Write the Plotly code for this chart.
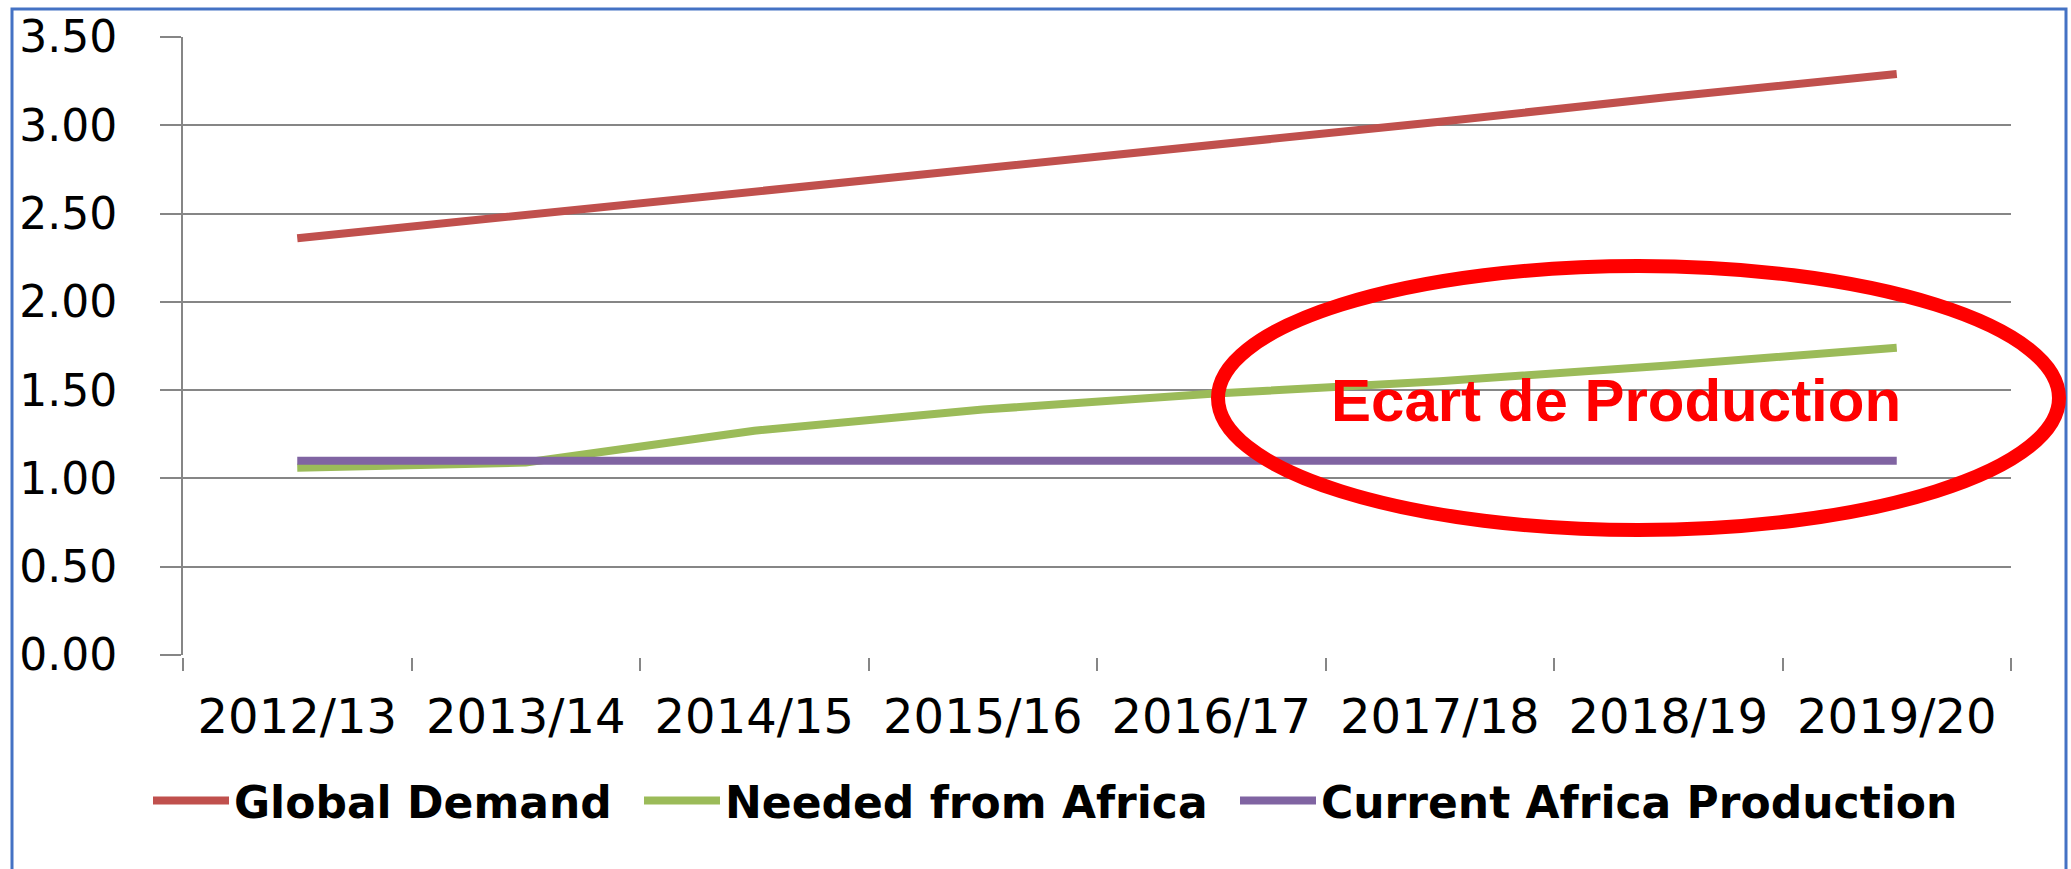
import plotly.graph_objects as go

# ---- data ----
seasons = ["2012/13", "2013/14", "2014/15", "2015/16", "2016/17", "2017/18", "2018/19", "2019/20"]
global_demand = [2.36, 2.49, 2.62, 2.76, 2.89, 3.02, 3.16, 3.29]
needed_from_africa = [1.06, 1.09, 1.27, 1.39, 1.48, 1.55, 1.64, 1.74]
current_africa_production = [1.10, 1.10, 1.10, 1.10, 1.10, 1.10, 1.10, 1.10]
y_ticks = [0.0, 0.5, 1.0, 1.5, 2.0, 2.5, 3.0, 3.5]
y_tick_text = ["0.00", "0.50", "1.00", "1.50", "2.00", "2.50", "3.00", "3.50"]
series_names = ["Global Demand", "Needed from Africa", "Current Africa Production"]
callout_text = "Ecart de Production"

# ---- layout geometry (pixels) ----
W, H = 2071, 869
L, R, T, B = 183, 60, 37, 214
PW, PH = W - L - R, H - T - B

def px_x(p):
    return (p - L) / PW

def px_y(p):
    return (H - B - p) / PH

colors = ["#C0504D", "#9BBB59", "#8064A2"]
legend_ids = ["legend", "legend2", "legend3"]
legend_left_px = [148, 639, 1235]
grid = "#868686"

fig = go.Figure()
for name, vals, c, lg in zip(series_names,
                             [global_demand, needed_from_africa, current_africa_production],
                             colors, legend_ids):
    fig.add_trace(go.Scatter(x=seasons, y=vals, name=name, mode="lines", legend=lg,
                             line=dict(color=c, width=8)))

legend_font = dict(family="DejaVu Sans", size=44, color="black", weight="bold")
legends = {}
for lg, lx in zip(legend_ids, legend_left_px):
    legends[lg] = dict(orientation="h", x=px_x(lx), xanchor="left",
                       y=px_y(801), yanchor="middle", font=legend_font,
                       itemwidth=76, bgcolor="rgba(0,0,0,0)")

fig.update_layout(
    width=W, height=H,
    margin=dict(l=L, r=R, t=T, b=B, pad=0, autoexpand=False),
    paper_bgcolor="white", plot_bgcolor="white",
    showlegend=True,
    xaxis=dict(type="category", range=[-0.5, 7.5], showgrid=False, zeroline=False,
               showline=True, linecolor="white", linewidth=3,
               ticks="outside", tickson="boundaries", ticklen=13, tickwidth=2,
               tickcolor=grid,
               tickfont=dict(family="DejaVu Sans", size=48, color="black"),
               ticklabelstandoff=17, fixedrange=True),
    yaxis=dict(range=[0, 3.5], tickvals=y_ticks, ticktext=y_tick_text,
               showgrid=True, gridcolor=grid, gridwidth=2, zeroline=False,
               showline=True, linecolor=grid, linewidth=2,
               ticks="outside", ticklen=21, tickwidth=2, tickcolor=grid,
               tickfont=dict(family="DejaVu Sans", size=44, color="black"),
               ticklabelstandoff=34, fixedrange=True),
    shapes=[
        dict(type="rect", xref="paper", yref="paper",
             x0=px_x(12), x1=px_x(2066), y0=px_y(900), y1=px_y(9),
             line=dict(color="#4472C4", width=3), fillcolor="rgba(0,0,0,0)", layer="above"),
        dict(type="circle", xref="paper", yref="paper",
             x0=px_x(1218), x1=px_x(2059), y0=px_y(530), y1=px_y(266),
             line=dict(color="#FF0000", width=14), fillcolor="rgba(0,0,0,0)", layer="above"),
    ],
    annotations=[
        dict(text="<b>" + callout_text + "</b>", xref="paper", yref="paper",
             x=px_x(1616), y=px_y(400), xanchor="center", yanchor="middle",
             showarrow=False,
             font=dict(family="Liberation Sans", size=60, color="#FF0000")),
    ],
)
fig.update_layout(**legends)

fig.write_html("out.html",
               config={"displayModeBar": False, "staticPlot": True},
               post_script="document.body.style.margin='0';document.body.style.overflow='hidden';")
